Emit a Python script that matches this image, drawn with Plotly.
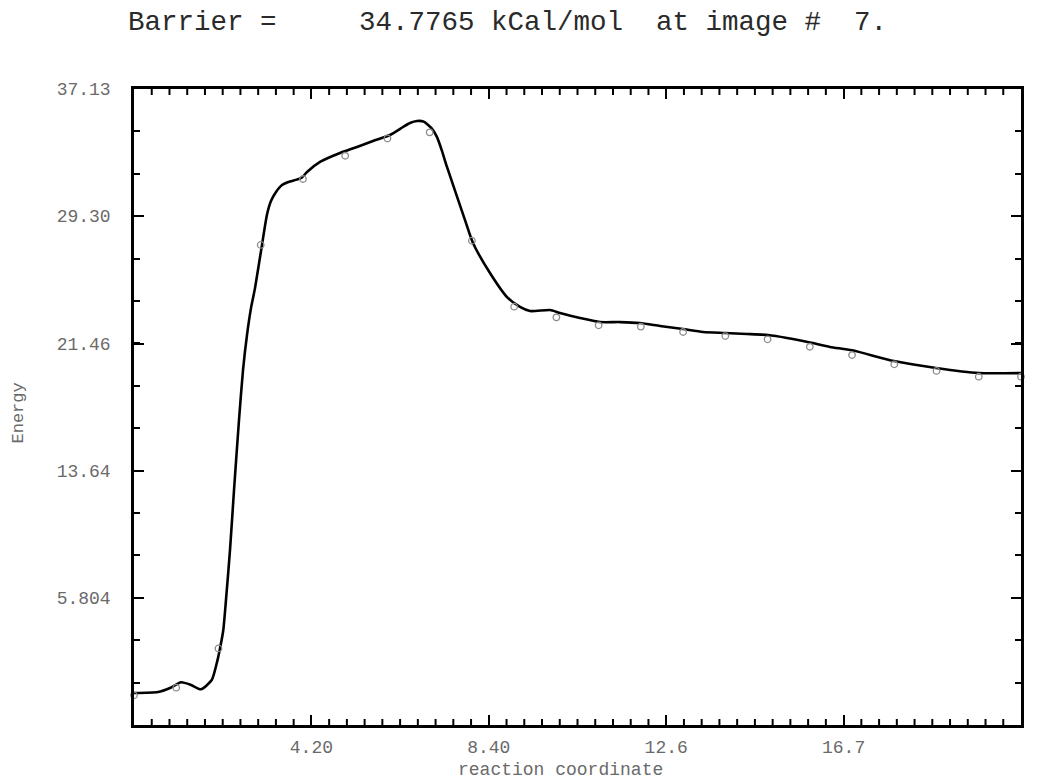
import plotly.graph_objects as go

# Image points (NEB images)
image_x = list(range(22))
image_e = [-0.2, 0.27, 2.69, 27.53, 31.59, 33.02, 34.09, 34.46, 27.79, 23.73, 23.07,
           22.58, 22.50, 22.17, 21.92, 21.72, 21.26, 20.75, 20.18, 19.77, 19.42, 19.42]

# Interpolated energy curve as drawn in the picture
curve_x = [0.0, 0.568, 0.852, 1.113, 1.349, 1.586, 1.840, 1.958, 2.036, 2.114, 2.178,
           2.273, 2.368, 2.486, 2.581, 2.675, 2.770, 2.865, 3.030, 3.149, 3.243, 3.362,
           3.504, 3.693, 3.850, 3.977, 4.096, 4.404, 4.877, 5.280, 5.658, 6.061, 6.369,
           6.534, 6.700, 6.860, 7.048, 7.174, 7.285, 7.410, 7.837, 8.026, 8.428, 8.831,
           9.139, 9.375, 9.849, 10.086, 10.559, 11.033, 11.506, 11.980, 12.453, 12.998,
           13.471, 13.992, 14.513, 15.010, 15.460, 16.005, 16.478, 17.000, 17.993, 18.988,
           20.005, 21.0]
curve_e = [-0.06, 0.00, 0.25, 0.60, 0.44, 0.17, 0.74, 1.77, 2.69, 3.82, 5.67,
           8.75, 12.44, 16.75, 19.83, 21.98, 23.64, 24.87, 27.53, 29.40, 30.23, 30.79,
           31.22, 31.43, 31.55, 31.68, 32.02, 32.64, 33.19, 33.56, 33.93, 34.30, 34.79,
           35.04, 35.16, 35.12, 34.71, 34.17, 33.37, 32.33, 29.06, 27.65, 25.80, 24.32,
           23.71, 23.46, 23.52, 23.34, 23.03, 22.78, 22.78, 22.72, 22.54, 22.35,
           22.17, 22.11, 22.05, 21.98, 21.80, 21.52, 21.25, 21.04, 20.38, 19.95,
           19.64, 19.64]

x_tick_vals = [4.2, 8.4, 12.6, 16.8, 21.0]
x_tick_text = ["4.20", "8.40", "12.6", "16.7", "21.0"]
y_tick_vals = [5.804, 13.64, 21.46, 29.30, 37.13]
y_tick_text = ["5.804", "13.64", "21.46", "29.30", "37.13"]
y_min = -2.027
y_max = 37.13

title_text = "Barrier =\u00a0\u00a0\u00a0\u00a0\u00a034.7765 kCal/mol\u00a0\u00a0at image #\u00a0\u00a07."

MONO = "Liberation Mono, DejaVu Sans Mono, monospace"

PLOT_H = 779 - 89 - 54  # plot area height in px (styling)

# minor tick positions (styling only)
x_minor = [round(i * 0.42, 4) for i in range(1, 50) if i % 10 != 0]
y_step = (y_max - y_min) / 15
y_minor = [y_min + i * y_step for i in range(1, 15)]

fig = go.Figure()
fig.add_trace(go.Scatter(
    x=curve_x, y=curve_e, mode="lines",
    line=dict(color="black", width=2.6, shape="spline", smoothing=0.6),
    hoverinfo="skip", showlegend=False,
))
fig.add_trace(go.Scatter(
    x=image_x, y=image_e, mode="markers",
    marker=dict(symbol="circle-open", size=6.5, color="#8a8a8a", line=dict(width=1.3)),
    cliponaxis=False, showlegend=False,
))

# minor x ticks (bottom and top edges) as short line shapes
tick_h = 6 / PLOT_H
shapes = []
for v in x_minor:
    shapes.append(dict(type="line", xref="x", yref="paper", x0=v, x1=v, y0=0, y1=tick_h,
                       line=dict(color="black", width=2), layer="above"))
    shapes.append(dict(type="line", xref="x", yref="paper", x0=v, x1=v, y0=1 - tick_h, y1=1,
                       line=dict(color="black", width=2), layer="above"))

axis_common = dict(
    ticks="inside", tickwidth=2, tickcolor="black",
    showline=True, linewidth=2.5, linecolor="black", mirror="allticks",
    showgrid=False, zeroline=False,
    tickfont=dict(family=MONO, size=18, color="#6a6a6a"),
)

fig.update_layout(
    width=1039, height=779,
    margin=dict(l=134, r=18, t=89, b=54),
    paper_bgcolor="white", plot_bgcolor="white",
    shapes=shapes,
    xaxis=dict(
        range=[0, 21], tickmode="array", tickvals=x_tick_vals, ticktext=x_tick_text,
        ticklen=10, ticklabelstandoff=4,
        **axis_common,
    ),
    yaxis=dict(
        range=[y_min, y_max], tickmode="array", tickvals=y_tick_vals, ticktext=y_tick_text,
        ticklen=10,
        minor=dict(ticks="inside", ticklen=6, tickwidth=2, tickcolor="black",
                   tickmode="array", tickvals=y_minor, showgrid=False),
        ticklabelstandoff=17,
        **axis_common,
    ),
    annotations=[
        dict(text=title_text, xref="paper", yref="paper",
             x=-0.0095, y=1 + (89 - 23) / PLOT_H, xanchor="left", yanchor="middle",
             showarrow=False, font=dict(family=MONO, size=27.5, color="#2a2a2a")),
        dict(text="reaction coordinate", xref="paper", yref="paper",
             x=(560 - 134) / 887, y=(725 - 770) / PLOT_H, xanchor="center", yanchor="middle",
             showarrow=False, font=dict(family=MONO, size=18, color="#6a6a6a")),
        dict(text="Energy", xref="paper", yref="paper", textangle=-90,
             x=(17.5 - 134) / 887, y=(725 - 413) / PLOT_H, xanchor="center", yanchor="middle",
             showarrow=False, font=dict(family=MONO, size=17, color="#6a6a6a")),
    ],
)

fig.write_html("out.html")
